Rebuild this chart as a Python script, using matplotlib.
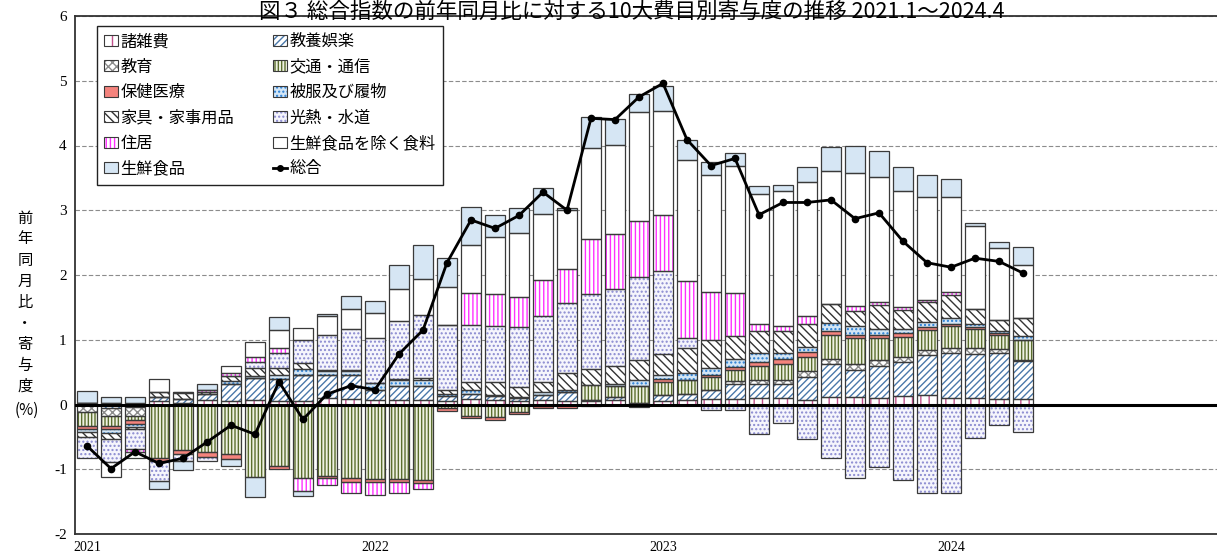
import numpy as np
import matplotlib
matplotlib.use("Agg")
import matplotlib.pyplot as plt
from matplotlib.patches import Patch
from matplotlib.lines import Line2D

plt.rcParams['font.family'] = ['Noto Sans CJK JP', 'DejaVu Sans']
plt.rcParams['hatch.linewidth'] = 1.0

######################################
# Data (2021.1 - 2024.4)
######################################

months = [f"{y}.{m}" for y in range(2021, 2025) for m in range(1, 13)][:40]
year_labels = ["2021", "2022", "2023", "2024"]

misc = [0.03, 0.03, 0.03, 0.05, 0.02, 0.07, 0.06, 0.07, 0.06, 0.06, 0.10, 0.09,
        0.07, 0.07, 0.07, 0.06, 0.08, 0.07, 0.05, 0.07, 0.06, 0.05, 0.07, 0.02,
        0.06, 0.07, 0.08, 0.08, 0.10, 0.10, 0.07, 0.12, 0.12, 0.10, 0.13, 0.14,
        0.10, 0.10, 0.09, 0.09]
culture = [0.00, -0.06, -0.04, 0.07, 0.07, 0.09, 0.26, 0.34, 0.33, 0.40, 0.36, 0.36,
           0.16, 0.21, 0.21, 0.07, 0.08, 0.06, 0.05, 0.08, 0.13, 0.02, 0.04, -0.04,
           0.08, 0.09, 0.15, 0.23, 0.21, 0.22, 0.36, 0.50, 0.42, 0.49, 0.52, 0.62,
           0.70, 0.68, 0.70, 0.58]
edu = [-0.11, -0.11, -0.13, 0, 0, 0, 0, 0, 0, 0, 0, 0,
       0, 0, 0, 0, 0, 0, 0, 0, 0, 0, 0, 0,
       0, 0, 0, 0.05, 0.07, 0.06, 0.08, 0.09, 0.08, 0.09, 0.09, 0.08,
       0.08, 0.09, 0.06, 0.02]
trans = [-0.22, -0.16, -0.07, -0.83, -0.70, -0.74, -0.77, -1.12, -0.95, -1.14, -1.10, -1.13,
         -1.15, -1.15, -1.16, -0.06, -0.17, -0.19, -0.11, -0.02, 0, 0.23, 0.17, 0.26,
         0.21, 0.22, 0.20, 0.17, 0.22, 0.24, 0.23, 0.36, 0.40, 0.34, 0.30, 0.31,
         0.33, 0.30, 0.22, 0.31]
health = [-0.05, -0.05, -0.06, -0.05, -0.07, -0.07, -0.07, 0, -0.05, 0, -0.04, -0.06,
          -0.04, -0.04, -0.06, -0.04, -0.04, -0.05, -0.04, -0.04, -0.05, 0, 0, 0,
          0.05, 0, 0.03, 0.05, 0.05, 0.08, 0.07, 0.06, 0.06, 0.06, 0.06, 0.04,
          0.03, 0.03, 0.03, 0]
cloth = [-0.04, -0.06, -0.04, 0, 0, 0, 0.04, 0.03, 0.07, 0.09, 0.05, 0.07,
         0.10, 0.10, 0.10, 0.03, 0.06, 0.02, 0.02, 0.05, 0.04, -0.02, 0.04, 0.10,
         0.06, 0.10, 0.10, 0.12, 0.14, 0.10, 0.08, 0.13, 0.13, 0.08, 0.07, 0.08,
         0.09, 0.04, 0.03, 0.06]
furn = [-0.08, -0.09, -0.04, 0.07, 0.08, 0.035, 0.08, 0.12, 0.10, 0.09, 0.03, 0.02,
        0, 0.02, 0.03, 0.07, 0.12, 0.20, 0.15, 0.14, 0.26, 0.25, 0.27, 0.30,
        0.32, 0.39, 0.44, 0.36, 0.35, 0.33, 0.35, 0.29, 0.23, 0.38, 0.29, 0.32,
        0.36, 0.23, 0.17, 0.28]
fuel = [-0.33, -0.36, -0.31, -0.30, -0.11, -0.07, 0, 0.09, 0.24, 0.36, 0.53, 0.62,
        0.70, 0.89, 0.97, 1.00, 0.89, 0.87, 0.93, 1.02, 1.08, 1.15, 1.20, 1.29,
        1.28, 0.15, -0.08, -0.08, -0.45, -0.28, -0.54, -0.82, -1.13, -0.96, -1.17, -1.36,
        -1.36, -0.52, -0.32, -0.42]
house = [0, 0, -0.04, 0, 0.03, 0.03, 0.05, 0.09, 0.07, -0.19, -0.11, -0.17,
         -0.21, -0.18, -0.09, 0, 0.49, 0.48, 0.46, 0.56, 0.52, 0.85, 0.85, 0.86,
         0.86, 0.88, 0.73, 0.66, 0.10, 0.09, 0.13, 0, 0.08, 0.04, 0.05, 0.03,
         0.04, 0, 0, 0]
food = [0, -0.23, -0.10, 0.21, 0, 0, 0.11, 0.22, 0.28, 0.18, 0.30, 0.31,
        0.38, 0.49, 0.56, 0.59, 0.75, 0.89, 0.99, 1.02, 0.91, 1.41, 1.37, 1.69,
        1.61, 1.87, 1.82, 1.97, 2.01, 2.07, 2.07, 2.06, 2.06, 1.93, 1.79, 1.58,
        1.47, 1.29, 1.12, 0.81]
fresh = [0.18, 0.08, 0.08, -0.13, -0.13, 0.09, -0.11, -0.31, 0.20, -0.08, 0.03, 0.21,
         0.19, 0.37, 0.52, 0.45, 0.58, 0.33, 0.38, 0.40, 0.04, 0.48, 0.40, 0.27,
         0.39, 0.32, 0.20, 0.20, 0.13, 0.10, 0.23, 0.36, 0.41, 0.40, 0.37, 0.34,
         0.28, 0.05, 0.09, 0.29]
total = [-0.64, -0.99, -0.73, -0.91, -0.83, -0.58, -0.32, -0.46, 0.35, -0.23, 0.16, 0.29,
         0.23, 0.78, 1.15, 2.19, 2.85, 2.72, 2.92, 3.28, 3.00, 4.42, 4.40, 4.75,
         4.96, 4.09, 3.69, 3.80, 2.93, 3.12, 3.12, 3.16, 2.87, 2.96, 2.52, 2.19,
         2.12, 2.26, 2.21, 2.03]

# (label, values, face, hatch colour, hatch) in stacking order
series = [
    ("諸雑費", misc, "white", "#c0508a", "||"),
    ("教養娯楽", culture, "white", "#4a78aa", "/////"),
    ("教育", edu, "white", "#8c8c8c", "xxxx"),
    ("交通・通信", trans, "#eef1e2", "#5b6e2e", "|||||"),
    ("保健医療", health, "#f4837d", "#f4837d", ""),
    ("被服及び履物", cloth, "#d3e6f6", "#2a7fd4", "...."),
    ("家具・家事用品", furn, "white", "#333333", "\\\\\\\\"),
    ("光熱・水道", fuel, "#f5f5fc", "#8a8ad0", "...."),
    ("住居", house, "white", "#ff30ff", "||||"),
    ("生鮮食品を除く食料", food, "white", "white", ""),
    ("生鮮食品", fresh, "#d6e6f4", "#d6e6f4", ""),
]

######################################
# Figure
######################################

fig = plt.figure(figsize=(12.17, 5.58), dpi=100)
ax = fig.add_axes([75 / 1217, 1 - 534 / 558, 1152 / 1217, 518 / 558])

x = np.arange(len(total))
w = 0.84
pos_b = np.zeros(len(x))
neg_b = np.zeros(len(x))
handles = {}
for name, vals, face, hc, hatch in series:
    v = np.array(vals, dtype=float)
    b = np.where(v >= 0, pos_b, neg_b)
    ax.bar(x, v, bottom=b, width=w, color=face, edgecolor=hc, hatch=hatch,
           linewidth=0, zorder=2)
    ax.bar(x, v, bottom=b, width=w, fill=False, edgecolor="#3a3a3a",
           linewidth=0.9, zorder=3)
    pos_b += np.clip(v, 0, None)
    neg_b += np.clip(v, None, 0)
    handles[name] = (Patch(facecolor=face, edgecolor=hc, hatch=hatch, linewidth=0),
                     Patch(fill=False, edgecolor="#3a3a3a", linewidth=0.8))

ax.axhline(0, color="black", lw=2.2, zorder=4)
ax.plot(x, total, color="black", lw=2, marker="o", ms=4.5, zorder=5)
handles["総合"] = Line2D([], [], color="black", lw=2, marker="o", ms=4)

ax.set_xlim(-0.5, 47.5)
ax.set_ylim(-2, 6)
ax.set_yticks(range(-2, 7))
ax.set_yticklabels([str(t) for t in range(-2, 7)], family="Liberation Serif", fontsize=11)
ax.set_xticks([0, 12, 24, 36])
ax.set_xticklabels(year_labels, family="Liberation Serif", fontsize=10)
ax.tick_params(axis="both", length=0, pad=6)
ax.tick_params(axis="x", pad=5)
ax.yaxis.grid(True, color="#8c8c8c", lw=0.8, ls=(0, (4, 2)))
ax.set_axisbelow(True)
for s in ["left", "top", "bottom"]:
    ax.spines[s].set_linewidth(1.3)
    ax.spines[s].set_color("#333333")
ax.spines["right"].set_visible(False)

# legend: two columns, row-wise reading order
order = ["諸雑費", "教育", "保健医療", "家具・家事用品", "住居", "生鮮食品",
         "教養娯楽", "交通・通信", "被服及び履物", "光熱・水道", "生鮮食品を除く食料", "総合"]
leg = ax.legend([handles[k] for k in order], order, ncol=2, loc="upper left",
                bbox_to_anchor=(0.019, 0.981), borderaxespad=0, fontsize=11.7,
                handlelength=0.85, handleheight=0.65, handletextpad=0.15,
                labelspacing=0.52, columnspacing=2.4, borderpad=0.45,
                fancybox=False, framealpha=1, edgecolor="#222222")
leg.get_frame().set_linewidth(1.0)
leg.set_zorder(10)

# y label, written vertically
ychars = list("前年同月比・寄与度")
for i, ch in enumerate(ychars):
    fig.text(25 / 1217, 1 - (218 + i * 21) / 558, ch, ha="center", va="center", fontsize=11)
fig.text(27 / 1217, 1 - 410 / 558, "(%)", ha="center", va="center", fontsize=11)

fig.text(632 / 1217, 1 - 0.5 / 558,
         "図３ 総合指数の前年同月比に対する10大費目別寄与度の推移 2021.1～2024.4",
         ha="center", va="top", fontsize=15.5)

fig.savefig("out.png", dpi=100)
